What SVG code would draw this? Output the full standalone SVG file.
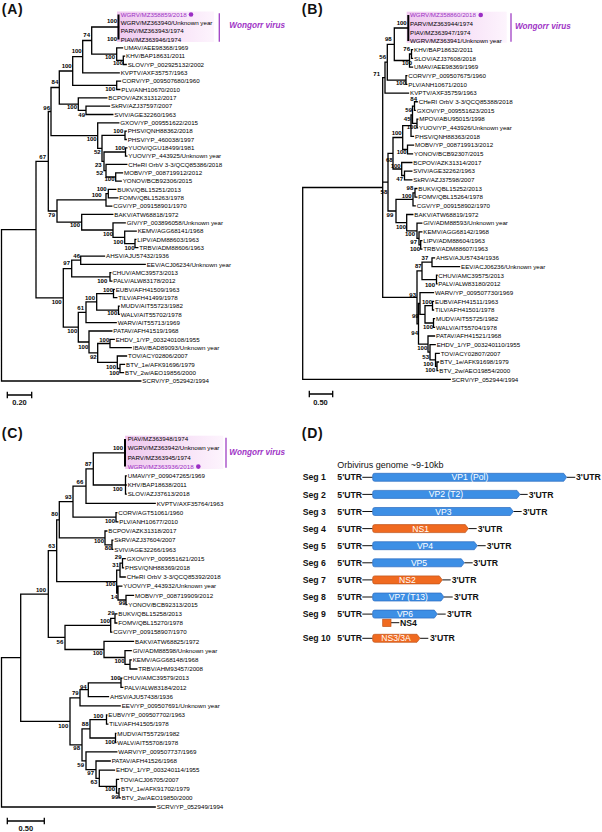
<svg xmlns="http://www.w3.org/2000/svg" width="602" height="832" viewBox="0 0 602 832">
<defs>
<linearGradient id="hl" x1="0" y1="0" x2="1" y2="0">
<stop offset="0" stop-color="#efc8ef"/>
<stop offset="1" stop-color="#fdf4fd"/>
</linearGradient>
<style>
.br{fill:none;stroke:#000;stroke-width:1.3;stroke-linecap:square}
.bar{fill:none;stroke:#000;stroke-width:2}
.t{font-family:"Liberation Sans",Arial,sans-serif;font-size:6.2px;fill:#000}
.p{fill:#9b2fc4}
.b{font-family:"Liberation Sans",Arial,sans-serif;font-size:6px;font-weight:bold;text-anchor:end;fill:#000}
.pl{font-family:"Liberation Sans",Arial,sans-serif;font-size:14px;font-weight:bold;letter-spacing:0.8px;fill:#111}
.wv{font-family:"Liberation Sans",Arial,sans-serif;font-size:8.2px;font-weight:bold;font-style:italic;fill:#a035c6}
.vl{stroke:#a040c4;stroke-width:1.3}
.sc{font-family:"Liberation Sans",Arial,sans-serif;font-size:7.5px;font-weight:bold;text-anchor:middle;fill:#111}
.d{font-family:"Liberation Sans",Arial,sans-serif;font-size:8.7px;font-weight:bold;fill:#111}
.gt{font-family:"Liberation Sans",Arial,sans-serif;font-size:8.6px;text-anchor:middle;fill:#fff}
.bl{fill:#3d8fe5;stroke:#2c6cc0;stroke-width:0.7}
.or{fill:#f06a20;stroke:#bf5319;stroke-width:0.7}
.ln{stroke:#111;stroke-width:1}
</style>
</defs>
<rect width="602" height="832" fill="#fff"/>

<!-- Panel A -->
<g id="panelA">
<text class="pl" x="1.7" y="13.5">(A)</text>
<rect x="117" y="11.5" width="97" height="30.5" fill="url(#hl)"/>
<line class="vl" x1="219.3" y1="13.3" x2="219.3" y2="41.7"/>
<text class="wv" x="229.3" y="28">Wongorr virus</text>
<circle cx="191" cy="14.5" r="2.3" fill="#9b2fc4"/>
<g id="a-branches">
<path class="bar" d="M118.5 14.5V39.5"/>
<path class="br" d="M123.3 56.2V64.5M116.7 47.8V60.3M91.7 27V54.1M82.7 40.5V72.8M116.7 81.1V89.5M72.7 56.7V85.3M86 106.1V114.5M78.3 97.8V110.3M59.3 71V104.1M125 131.1V139.5M125.5 147.8V156.1M115.7 172.8V181.1M106 164.4V177M104 152V170.7M102 135.3V161.3M97.7 122.8V148.3M51 87.5V135.6M108.3 189.4V197.8M106 193.6V206.1M135 239.4V247.7M124.7 231.1V243.6M113 222.8V237.3M81.7 214.4V230M57 199.8V222.2M48.3 111.5V211M80.7 256.1V264.4M110 272.7V281.1M71.7 260.2V276.9M113.5 289.4V297.7M118.5 306.1V314.4M96.7 293.6V310.2M86 301.9V322.7M110 339.4V347.7M120 364.4V372.7M117.3 356V368.5M97.7 343.5V362.3M89 331V352.9M78.3 312.3V342M63.3 268.6V327.1M36 161.3V297.9M1.5 229.6V381
M91.7 27H118.5M116.7 47.8H122.5M123.3 56.2H124.5M123.3 64.5H126.2M116.7 60.3H123.3M91.7 54.1H116.7M82.7 40.5H91.7M82.7 72.8H119.2M72.7 56.7H82.7M116.7 81.1H120.5M116.7 89.5H119.8M72.7 85.3H116.7M59.3 71H72.7M78.3 97.8H106.8M86 106.1H109.5M86 114.5H112.8M78.3 110.3H86M59.3 104.1H78.3M51 87.5H59.3M97.7 122.8H118.8M125 131.1H126.2M125 139.5H126.2M102 135.3H125M125.5 147.8H126.8M125.5 156.1H126.8M104 152H125.5M106 164.4H126.8M115.7 172.8H122.5M115.7 181.1H121.2M106 177H115.7M104 170.7H106M102 161.3H104M97.7 148.3H102M51 135.6H97.7M48.3 111.5H51M108.3 189.4H115.8M108.3 197.8H117.8M106 193.6H108.3M106 206.1H111.8M57 199.8H106M81.7 214.4H112.8M113 222.8H125.2M124.7 231.1H136.2M135 239.4H135.8M135 247.7H137.8M124.7 243.6H135M113 237.3H124.7M81.7 230H113M57 222.2H81.7M48.3 211H57M36 161.3H48.3M80.7 256.1H104.5M80.7 264.4H145.2M71.7 260.2H80.7M110 272.7H110.8M110 281.1H111.8M71.7 276.9H110M63.3 268.6H71.7M113.5 289.4H114.2M113.5 297.7H116.8M96.7 293.6H113.5M118.5 306.1H119.2M118.5 314.4H119.2M96.7 310.2H118.5M86 301.9H96.7M86 322.7H116.2M78.3 312.3H86M89 331H111.8M110 339.4H114.2M110 347.7H131.2M97.7 343.5H110M117.3 356H126.5M120 364.4H124.5M120 372.7H123.5M117.3 368.5H120M97.7 362.3H117.3M89 352.9H97.7M78.3 342H89M63.3 327.1H78.3M36 297.9H63.3M1.5 229.6H36M1.5 381H140.8"/>
<path class="br" d="M7.3 395H31.7M7.3 392.5V397.5M31.7 392.5V397.5"/>
</g>
<g id="a-leaves">
<text class="t p" x="120.7" y="16.7">WGRV/MZ358859/2018</text>
<text class="t" x="120.7" y="25">WGRV/MZ363940/Unknown year</text>
<text class="t" x="120.7" y="33.4">PARV/MZ363943/1974</text>
<text class="t" x="120.7" y="41.7">PIAV/MZ363946/1974</text>
<text class="t" x="124" y="50">UMAV/AEE98368/1969</text>
<text class="t" x="126" y="58.4">KHV/BAP18631/2011</text>
<text class="t" x="127.7" y="66.7">SLOV/YP_002925132/2002</text>
<text class="t" x="120.7" y="75">KVPTV/AXF35757/1963</text>
<text class="t" x="122" y="83.3">CORV/YP_009507680/1960</text>
<text class="t" x="121.3" y="91.7">PLV/ANH10670/2010</text>
<text class="t" x="108.3" y="100">BCPOV/AZK31312/2017</text>
<text class="t" x="111" y="108.3">SkRV/AZJ37597/2007</text>
<text class="t" x="114.3" y="116.7">SVIV/AGE32260/1963</text>
<text class="t" x="120.3" y="125">GXOV/YP_009551622/2015</text>
<text class="t" x="127.7" y="133.3">PHSV/QNH88362/2018</text>
<text class="t" x="127.7" y="141.7">PHSV/YP_460038/1997</text>
<text class="t" x="128.3" y="150">YUOV/QGU18499/1981</text>
<text class="t" x="128.3" y="158.3">YUOV/YP_443925/Unknown year</text>
<text class="t" x="128.3" y="166.6">CHeRI OrbV 3-3/QCQ85386/2018</text>
<text class="t" x="124" y="175">MOBV/YP_008719912/2012</text>
<text class="t" x="122.7" y="183.3">YONOV/BCB92306/2015</text>
<text class="t" x="117.3" y="191.6">BUKV/QBL15251/2013</text>
<text class="t" x="119.3" y="200">FOMV/QBL15263/1978</text>
<text class="t" x="113.3" y="208.3">CGV/YP_009158901/1970</text>
<text class="t" x="114.3" y="216.6">BAKV/ATW68818/1972</text>
<text class="t" x="126.7" y="225">GIV/YP_003896058/Unknown year</text>
<text class="t" x="137.7" y="233.3">KEMV/AGG68141/1968</text>
<text class="t" x="137.3" y="241.6">LIPV/ADM88603/1963</text>
<text class="t" x="139.3" y="249.9">TRBV/ADM88606/1963</text>
<text class="t" x="106" y="258.3">AHSV/AJU57432/1936</text>
<text class="t" x="146.7" y="266.6">EEV/ACJ06234/Unknown year</text>
<text class="t" x="112.3" y="274.9">CHUV/AMC39573/2013</text>
<text class="t" x="113.3" y="283.3">PALV/ALW83178/2012</text>
<text class="t" x="115.7" y="291.6">EUBV/AFH41509/1963</text>
<text class="t" x="118.3" y="299.9">TILV/AFH41499/1978</text>
<text class="t" x="120.7" y="308.3">MUDV/AIT55723/1982</text>
<text class="t" x="120.7" y="316.6">WALV/AIT55702/1978</text>
<text class="t" x="117.7" y="324.9">WARV/AIT55713/1969</text>
<text class="t" x="113.3" y="333.2">PATAV/AFH41519/1968</text>
<text class="t" x="115.7" y="341.6">EHDV_1/YP_003240108/1955</text>
<text class="t" x="132.7" y="349.9">IBAV/BAD89093/Unknown year</text>
<text class="t" x="128" y="358.2">TOV/ACY02806/2007</text>
<text class="t" x="126" y="366.6">BTV_1e/AFK91696/1979</text>
<text class="t" x="125" y="374.9">BTV_2w/AEO19856/2000</text>
<text class="t" x="142.3" y="383.2">SCRV/YP_052942/1994</text>
</g>
<g id="a-support">
<text class="b" x="117" y="22.8">100</text>
<text class="b" x="117" y="41.1">100</text>
<text class="b" x="90" y="36.8">74</text>
<text class="b" x="115" y="59.4">100</text>
<text class="b" x="123" y="65.4">100</text>
<text class="b" x="81.7" y="53.1">100</text>
<text class="b" x="71.7" y="67.8">100</text>
<text class="b" x="115.3" y="91.1">100</text>
<text class="b" x="58.3" y="83.8">84</text>
<text class="b" x="77" y="109.4">100</text>
<text class="b" x="85" y="117.1">49</text>
<text class="b" x="50" y="109.8">96</text>
<text class="b" x="96.7" y="141.1">100</text>
<text class="b" x="123.3" y="132.8">100</text>
<text class="b" x="100.7" y="153.8">52</text>
<text class="b" x="125" y="150.4">100</text>
<text class="b" x="101.7" y="167.1">23</text>
<text class="b" x="103" y="175.2">52</text>
<text class="b" x="114.5" y="180.5">100</text>
<text class="b" x="46" y="158.8">67</text>
<text class="b" x="106.7" y="191.1">100</text>
<text class="b" x="101.7" y="197.1">100</text>
<text class="b" x="55" y="217.1">79</text>
<text class="b" x="80" y="227.1">100</text>
<text class="b" x="113" y="236.1">100</text>
<text class="b" x="123.3" y="243.8">100</text>
<text class="b" x="134.5" y="249.8">100</text>
<text class="b" x="80" y="257.8">46</text>
<text class="b" x="70" y="265.4">97</text>
<text class="b" x="107.3" y="283.1">100</text>
<text class="b" x="61.7" y="304.4">100</text>
<text class="b" x="113" y="292.1">100</text>
<text class="b" x="117.3" y="315.4">100</text>
<text class="b" x="95" y="300.4">100</text>
<text class="b" x="84" y="310.4">61</text>
<text class="b" x="77.3" y="333.1">100</text>
<text class="b" x="109.3" y="342.1">100</text>
<text class="b" x="88.3" y="348.8">100</text>
<text class="b" x="96.7" y="359.4">92</text>
<text class="b" x="116" y="368.8">100</text>
<text class="b" x="119.3" y="375.4">100</text>
</g>
<text class="sc" x="19.5" y="405">0.20</text>
</g>

<!-- Panel B -->
<g id="panelB">
<text class="pl" x="301.7" y="13.5">(B)</text>
<rect x="406.7" y="11.7" width="100" height="31" fill="url(#hl)"/>
<line class="vl" x1="511" y1="13.3" x2="511" y2="41.7"/>
<text class="wv" x="515" y="29">Wongorr virus</text>
<circle cx="480.7" cy="15" r="2.3" fill="#9b2fc4"/>
<g id="b-branches">
<path class="bar" d="M408.3 15V41"/>
<path class="br" d="M411.5 49.7V58.4M409.5 54V67.05M394.3 28V60.5M406 75.7V84.4M387.3 44.3V80.1M385 62.2V93.1M414.5 101.75V110.4M417 119.1V127.8M412.5 106.1V123.4M411 114.8V136.45M407.5 145.1V153.8M402.7 125.6V149.5M404.5 171.15V179.8M401.7 162.5V175.5M393 137.5V169M415 188.5V197.2M413 192.8V205.85M420.7 240.55V249.2M419 231.9V244.9M417 223.2V238.4M406.7 214.5V230.8M396 199.3V222.7M388 153.3V211M432 257.9V266.6M436.5 275.25V283.9M422 262.2V279.6M432.5 301.3V310M433.5 318.6V327.3M425 305.6V323M420 292.6V314.3M437 362V370.7M435.5 353.3V366.3M430 344.65V359.8M428 336V352.2M418.5 303.5V344.1M417 270.9V323.8M382.7 77.6V297.3M302.7 187.5V379.35
M394.3 28H408.3M411.5 49.7H412.5M411.5 58.4H412.5M409.5 54H411.5M409.5 67.05H412.5M394.3 60.5H409.5M387.3 44.3H394.3M406 75.7H406.8M406 84.4H406.8M387.3 80.1H406M385 62.2H387.3M385 93.1H408.5M382.7 77.6H385M414.5 101.75H417.2M414.5 110.4H415.2M412.5 106.1H414.5M417 119.1H417.8M417 127.8H417.5M412.5 123.4H417M411 114.8H412.5M411 136.45H413.5M402.7 125.6H411M407.5 145.1H413.5M407.5 153.8H412.5M402.7 149.5H407.5M393 137.5H402.7M401.7 162.5H411.8M404.5 171.15H411.8M404.5 179.8H411.8M401.7 175.5H404.5M393 169H401.7M388 153.3H393M415 188.5H416.8M415 197.2H416.8M413 192.8H415M413 205.85H415.2M396 199.3H413M406.7 214.5H412.8M417 223.2H421.8M419 231.9H421.8M420.7 240.55H421.8M420.7 249.2H421.8M419 244.9H420.7M417 238.4H419M406.7 230.8H417M396 222.7H406.7M388 211H396M382.7 182.2H388M432 257.9H434.5M432 266.6H459.5M422 262.2H432M436.5 275.25H437M436.5 283.9H437M422 279.6H436.5M417 270.9H422M420 292.6H433.5M432.5 301.3H433.5M432.5 310H433.5M425 305.6H432.5M433.5 318.6H434.5M433.5 327.3H434.5M425 323H433.5M420 314.3H425M418.5 303.5H420M428 336H434.5M430 344.65H435.2M435.5 353.3H439.2M437 362H438.5M437 370.7H437.8M435.5 366.3H437M430 359.8H435.5M428 352.2H430M418.5 344.1H428M417 323.8H418.5M382.7 297.3H417M302.7 187.5H382.7M302.7 379.35H450.2"/>
<path class="br" d="M309.3 394H332.7M309.3 391.5V396.5M332.7 391.5V396.5"/>
</g>
<g id="b-leaves">
<text class="t p" x="410" y="17.2">WGRV/MZ358860/2018</text>
<text class="t" x="410" y="25.9">PARV/MZ363944/1974</text>
<text class="t" x="410" y="34.6">PIAV/MZ363947/1974</text>
<text class="t" x="410" y="43.2">WGRV/MZ363941/Unknown year</text>
<text class="t" x="414" y="51.9">KHV/BAP18632/2011</text>
<text class="t" x="414" y="60.6">SLOV/AZJ37608/2018</text>
<text class="t" x="414" y="69.3">UMAV/AEE98369/1969</text>
<text class="t" x="408.3" y="77.9">CORV/YP_009507675/1960</text>
<text class="t" x="408.3" y="86.6">PLV/ANH10671/2010</text>
<text class="t" x="410" y="95.3">KVPTV/AXF35759/1963</text>
<text class="t" x="418.7" y="104">CHeRI OrbV 3-3/QCQ85388/2018</text>
<text class="t" x="416.7" y="112.6">GXOV/YP_009551623/2015</text>
<text class="t" x="419.3" y="121.3">MPOV/ABU95015/1998</text>
<text class="t" x="419" y="130">YUOV/YP_443926/Unknown year</text>
<text class="t" x="415" y="138.7">PHSV/QNH88363/2018</text>
<text class="t" x="415" y="147.3">MOBV/YP_008719913/2012</text>
<text class="t" x="414" y="156">YONOV/BCB92307/2015</text>
<text class="t" x="413.3" y="164.7">BCPOV/AZK31314/2017</text>
<text class="t" x="413.3" y="173.4">SVIV/AGE32262/1963</text>
<text class="t" x="413.3" y="182">SkRV/AZJ37598/2007</text>
<text class="t" x="418.3" y="190.7">BUKV/QBL15252/2013</text>
<text class="t" x="418.3" y="199.4">FOMV/QBL15264/1978</text>
<text class="t" x="416.7" y="208.1">CGV/YP_009158902/1970</text>
<text class="t" x="414.3" y="216.7">BAKV/ATW68819/1972</text>
<text class="t" x="423.3" y="225.4">GIV/ADM88593/Unknown year</text>
<text class="t" x="423.3" y="234.1">KEMV/AGG68142/1968</text>
<text class="t" x="423.3" y="242.8">LIPV/ADM88604/1963</text>
<text class="t" x="423.3" y="251.4">TRBV/ADM88607/1963</text>
<text class="t" x="436" y="260.1">AHSV/AJU57434/1936</text>
<text class="t" x="461" y="268.8">EEV/ACJ06236/Unknown year</text>
<text class="t" x="438.3" y="277.5">CHUV/AMC39575/2013</text>
<text class="t" x="438.3" y="286.1">PALV/ALW83180/2012</text>
<text class="t" x="435" y="294.8">WARV/YP_009507730/1969</text>
<text class="t" x="435" y="303.5">EUBV/AFH41511/1963</text>
<text class="t" x="435" y="312.2">TILV/AFH41501/1978</text>
<text class="t" x="436" y="320.8">MUDV/AIT55725/1982</text>
<text class="t" x="436" y="329.5">WALV/AIT55704/1978</text>
<text class="t" x="436" y="338.2">PATAV/AFH41521/1968</text>
<text class="t" x="436.7" y="346.9">EHDV_1/YP_003240110/1955</text>
<text class="t" x="440.7" y="355.5">TOV/ACY02807/2007</text>
<text class="t" x="440" y="364.2">BTV_1e/AFK91698/1979</text>
<text class="t" x="439.3" y="372.9">BTV_2w/AEO19854/2000</text>
<text class="t" x="451.7" y="381.6">SCRV/YP_052944/1994</text>
</g>
<g id="b-support">
<text class="b" x="406.7" y="25.4">100</text>
<text class="b" x="391.7" y="41.4">98</text>
<text class="b" x="410" y="51.4">76</text>
<text class="b" x="412" y="65.4">100</text>
<text class="b" x="386" y="59.4">56</text>
<text class="b" x="380" y="76.1">71</text>
<text class="b" x="406" y="85.4">100</text>
<text class="b" x="417" y="101.4">84</text>
<text class="b" x="412" y="112.1">59</text>
<text class="b" x="410.5" y="120.8">45</text>
<text class="b" x="416.8" y="128.8">100</text>
<text class="b" x="401.7" y="134.8">100</text>
<text class="b" x="406.7" y="154.4">100</text>
<text class="b" x="392.7" y="162.1">68</text>
<text class="b" x="400.7" y="167.8">100</text>
<text class="b" x="403" y="181.4">47</text>
<text class="b" x="387.3" y="194.4">58</text>
<text class="b" x="413.3" y="190.4">98</text>
<text class="b" x="411.7" y="198.1">100</text>
<text class="b" x="393.3" y="217.1">99</text>
<text class="b" x="406" y="228.8">100</text>
<text class="b" x="415" y="236.4">100</text>
<text class="b" x="417" y="244.4">97</text>
<text class="b" x="420" y="250.9">100</text>
<text class="b" x="428.3" y="259.8">37</text>
<text class="b" x="421.7" y="268.1">87</text>
<text class="b" x="435" y="287.1">100</text>
<text class="b" x="416" y="297.1">93</text>
<text class="b" x="432" y="303.8">100</text>
<text class="b" x="418.7" y="317.8">99</text>
<text class="b" x="433" y="328.8">100</text>
<text class="b" x="418" y="335.4">94</text>
<text class="b" x="427.3" y="350.4">100</text>
<text class="b" x="429" y="358.8">53</text>
<text class="b" x="433.3" y="366.4">100</text>
<text class="b" x="435.3" y="372.1">100</text>
</g>
<text class="sc" x="320.5" y="404.5">0.50</text>
</g>

<!-- Panel C -->
<g id="panelC">
<text class="pl" x="1.7" y="437.5">(C)</text>
<rect x="125" y="435.7" width="98.3" height="33.3" fill="url(#hl)"/>
<line class="vl" x1="226" y1="437.7" x2="226" y2="467.7"/>
<text class="wv" x="229.3" y="454.7">Wongorr virus</text>
<circle cx="198.3" cy="466.6" r="2.3" fill="#9b2fc4"/>
<g id="c-branches">
<path class="bar" d="M125 439V466.6"/>
<path class="br" d="M125.5 475.8V494.2M93.3 452.8V485M86 468.9V503.4M116 512.6V521.8M73 486.2V517.2M112 540.2V549.4M105 531V544.8M59.3 501.7V537.9M122.5 558.6V567.8M120 563.2V577M126 595.4V604.6M118 586.2V600M116.7 570.1V593.1M56.7 519.8V581.6M115 613.8V623M110.7 618.4V632.2M130 659.8V669M125 650.6V664.4M104 641.4V657.5M65 625.3V649.5M48.3 550.7V637.4M121 678.2V687.4M88.3 682.8V696.6M80 689.7V705.8M106.5 715V724.2M115.5 733.4V742.6M90 719.6V738M119 788.6V797.8M116.5 779.4V793.2M99.3 770.2V786.3M96 761V778.3M86 751.8V769.7M82 728.8V760.8M70 697.8V744.8M20.7 594.1V721.3M1.5 657.7V807
M93.3 452.8H125M125.5 475.8H126.2M125.5 485H126.2M125.5 494.2H126.2M93.3 485H125.5M86 468.9H93.3M86 503.4H155.2M73 486.2H86M116 512.6H116.8M116 521.8H117.8M73 517.2H116M59.3 501.7H73M105 531H106.8M112 540.2H112.8M112 549.4H112.8M105 544.8H112M59.3 537.9H105M56.7 519.8H59.3M122.5 558.6H125.2M122.5 567.8H123.5M120 563.2H122.5M120 577H125.2M116.7 570.1H120M118 586.2H121.8M126 595.4H133.5M126 604.6H126.8M118 600H126M116.7 593.1H118M56.7 581.6H116.7M48.3 550.7H56.7M115 613.8H116.8M115 623H116.8M110.7 618.4H115M110.7 632.2H111.8M65 625.3H110.7M104 641.4H133.5M125 650.6H131.2M130 659.8H131.2M130 669H136.8M125 664.4H130M104 657.5H125M65 649.5H104M48.3 637.4H65M20.7 594.1H48.3M121 678.2H121.8M121 687.4H122.8M88.3 682.8H121M88.3 696.6H108.5M80 689.7H88.3M80 705.8H120.2M70 697.8H80M106.5 715H106.8M106.5 724.2H107.8M90 719.6H106.5M115.5 733.4H115.8M115.5 742.6H115.8M90 738H115.5M82 728.8H90M86 751.8H116.8M96 761H110.2M99.3 770.2H114.5M116.5 779.4H118.5M119 788.6H119.5M119 797.8H120.2M116.5 793.2H119M99.3 786.3H116.5M96 778.3H99.3M86 769.7H96M82 760.8H86M70 744.8H82M20.7 721.3H70M1.5 657.7H20.7M1.5 807H155.2"/>
<path class="br" d="M7.3 821H44.3M7.3 818.5V823.5M44.3 818.5V823.5"/>
</g>
<g id="c-leaves">
<text class="t" x="127.7" y="441.2">PIAV/MZ363948/1974</text>
<text class="t" x="127.7" y="450.4">WGRV/MZ363942/Unknown year</text>
<text class="t" x="127.7" y="459.6">PARV/MZ363945/1974</text>
<text class="t p" x="127.7" y="468.8">WGRV/MZ363936/2018</text>
<text class="t" x="127.7" y="478">UMAV/YP_009047265/1969</text>
<text class="t" x="127.7" y="487.2">KHV/BAP18638/2011</text>
<text class="t" x="127.7" y="496.4">SLOV/AZJ37613/2018</text>
<text class="t" x="156.7" y="505.6">KVPTV/AXF35764/1963</text>
<text class="t" x="118.3" y="514.8">CORV/AGT51061/1960</text>
<text class="t" x="119.3" y="524">PLV/ANH10677/2010</text>
<text class="t" x="108.3" y="533.2">BCPOV/AZK31318/2017</text>
<text class="t" x="114.3" y="542.4">SkRV/AZJ37604/2007</text>
<text class="t" x="114.3" y="551.6">SVIV/AGE32266/1963</text>
<text class="t" x="126.7" y="560.8">GXOV/YP_009551621/2015</text>
<text class="t" x="125" y="570">PHSV/QNH88369/2018</text>
<text class="t" x="126.7" y="579.2">CHeRI OrbV 3-3/QCQ85392/2018</text>
<text class="t" x="123.3" y="588.4">YUOV/YP_443932/Unknown year</text>
<text class="t" x="135" y="597.6">MOBV/YP_008719909/2012</text>
<text class="t" x="128.3" y="606.8">YONOV/BCB92313/2015</text>
<text class="t" x="118.3" y="616">BUKV/QBL15258/2013</text>
<text class="t" x="118.3" y="625.2">FOMV/QBL15270/1978</text>
<text class="t" x="113.3" y="634.4">CGV/YP_009158907/1970</text>
<text class="t" x="135" y="643.6">BAKV/ATW68825/1972</text>
<text class="t" x="132.7" y="652.8">GIV/ADM88598/Unknown year</text>
<text class="t" x="132.7" y="662">KEMV/AGG68148/1968</text>
<text class="t" x="138.3" y="671.2">TRBV/AHM93457/2008</text>
<text class="t" x="123.3" y="680.4">CHUV/AMC39579/2013</text>
<text class="t" x="124.3" y="689.6">PALV/ALW83184/2012</text>
<text class="t" x="110" y="698.8">AHSV/AJU57438/1936</text>
<text class="t" x="121.7" y="708">EEV/YP_009507691/Unknown year</text>
<text class="t" x="108.3" y="717.2">EUBV/YP_009507702/1963</text>
<text class="t" x="109.3" y="726.4">TILV/AFH41505/1978</text>
<text class="t" x="117.3" y="735.6">MUDV/AIT55729/1982</text>
<text class="t" x="117.3" y="744.8">WALV/AIT55708/1978</text>
<text class="t" x="118.3" y="754">WARV/YP_009507737/1969</text>
<text class="t" x="111.7" y="763.2">PATAV/AFH41526/1968</text>
<text class="t" x="116" y="772.4">EHDV_1/YP_003240114/1955</text>
<text class="t" x="120" y="781.6">TOV/ACJ06705/2007</text>
<text class="t" x="121" y="790.8">BTV_1e/AFK91702/1979</text>
<text class="t" x="121.7" y="800">BTV_2w/AEO19850/2000</text>
<text class="t" x="156.7" y="809.2">SCRV/YP_052949/1994</text>
</g>
<g id="c-support">
<text class="b" x="123" y="450.4">100</text>
<text class="b" x="91.7" y="466.4">87</text>
<text class="b" x="122.7" y="491.1">100</text>
<text class="b" x="83.3" y="483.8">66</text>
<text class="b" x="71.7" y="498.8">93</text>
<text class="b" x="115" y="523.1">100</text>
<text class="b" x="58" y="516.4">80</text>
<text class="b" x="104" y="543.1">100</text>
<text class="b" x="111.5" y="550.4">80</text>
<text class="b" x="55" y="547.8">63</text>
<text class="b" x="121.5" y="559.4">29</text>
<text class="b" x="119" y="567.1">31</text>
<text class="b" x="115.5" y="586.4">100</text>
<text class="b" x="117.5" y="598.8">14</text>
<text class="b" x="125.5" y="605.4">99</text>
<text class="b" x="46" y="592.1">100</text>
<text class="b" x="114.5" y="615.4">29</text>
<text class="b" x="110" y="622.8">100</text>
<text class="b" x="63.3" y="643.8">56</text>
<text class="b" x="102.7" y="655.4">100</text>
<text class="b" x="124.5" y="662.8">100</text>
<text class="b" x="120.5" y="679.8">100</text>
<text class="b" x="86.7" y="688.8">94</text>
<text class="b" x="78.7" y="695.4">79</text>
<text class="b" x="103.3" y="717.8">100</text>
<text class="b" x="88.5" y="726.4">88</text>
<text class="b" x="115" y="743.8">100</text>
<text class="b" x="68.3" y="727.8">100</text>
<text class="b" x="80" y="749.8">98</text>
<text class="b" x="84" y="767.1">59</text>
<text class="b" x="94" y="775.4">97</text>
<text class="b" x="97.3" y="783.8">63</text>
<text class="b" x="115" y="791.1">100</text>
<text class="b" x="118.3" y="799.4">99</text>
</g>
<text class="sc" x="25.8" y="831.3">0.50</text>
</g>

<!-- Panel D -->
<g id="panelD">
<text class="pl" x="301.7" y="437.5">(D)</text>
<text x="337.3" y="468.2" style="font-family:'Liberation Sans',Arial,sans-serif;font-size:9px;fill:#111">Orbivirus genome ~9-10kb</text>
<g id="d-lines">
<path class="ln" d="M362.3 477.3H372.7M566.7 477.3H575.3M362.3 494.4H372.7M520 494.4H527.7M362.3 511.5H372.7M513.3 511.5H521.7M362.3 528.6H372.7M468.3 528.6H476.7M362.3 545.7H372.7M477.3 545.7H485.7M362.3 562.8H372.7M464.3 562.8H472.7M362.3 579.9H372.7M442.3 579.9H450.7M362.3 597H372.7M444 597H452.7M362.3 614.1H372.7M437.3 614.1H445.7M391 622.7H399.3M362.3 638.3H372.7M420 638.3H428.3"/>
</g>
<g id="seg1"><text class="d" x="302.7" y="480.4">Seg 1</text><text class="d" x="337.3" y="480.4">5'UTR</text>
<path class="bl" d="M374.7 473.3H563.7L566.7 477.3L563.7 481.3H374.7Q372.7 481.3 372.7 479.3V475.3Q372.7 473.3 374.7 473.3Z"/>
<text class="gt" x="470" y="480.3">VP1 (Pol)</text><text class="d" x="576" y="480.4">3'UTR</text></g>
<g id="seg2"><text class="d" x="302.7" y="497.5">Seg 2</text><text class="d" x="337.3" y="497.5">5'UTR</text>
<path class="bl" d="M374.7 490.4H517L520 494.4L517 498.4H374.7Q372.7 498.4 372.7 496.4V492.4Q372.7 490.4 374.7 490.4Z"/>
<text class="gt" x="446" y="497.4">VP2 (T2)</text><text class="d" x="528.7" y="497.5">3'UTR</text></g>
<g id="seg3"><text class="d" x="302.7" y="514.6">Seg 3</text><text class="d" x="337.3" y="514.6">5'UTR</text>
<path class="bl" d="M374.7 507.5H510.3L513.3 511.5L510.3 515.5H374.7Q372.7 515.5 372.7 513.5V509.5Q372.7 507.5 374.7 507.5Z"/>
<text class="gt" x="443.3" y="514.5">VP3</text><text class="d" x="522.7" y="514.6">3'UTR</text></g>
<g id="seg4"><text class="d" x="302.7" y="531.7">Seg 4</text><text class="d" x="337.3" y="531.7">5'UTR</text>
<path class="or" d="M374.7 524.6H465.3L468.3 528.6L465.3 532.6H374.7Q372.7 532.6 372.7 530.6V526.6Q372.7 524.6 374.7 524.6Z"/>
<text class="gt" x="420.7" y="531.6">NS1</text><text class="d" x="477.7" y="531.7">3'UTR</text></g>
<g id="seg5"><text class="d" x="302.7" y="548.8">Seg 5</text><text class="d" x="337.3" y="548.8">5'UTR</text>
<path class="bl" d="M374.7 541.7H474.3L477.3 545.7L474.3 549.7H374.7Q372.7 549.7 372.7 547.7V543.7Q372.7 541.7 374.7 541.7Z"/>
<text class="gt" x="425" y="548.7">VP4</text><text class="d" x="486.7" y="548.8">3'UTR</text></g>
<g id="seg6"><text class="d" x="302.7" y="565.9">Seg 6</text><text class="d" x="337.3" y="565.9">5'UTR</text>
<path class="bl" d="M374.7 558.8H461.3L464.3 562.8L461.3 566.8H374.7Q372.7 566.8 372.7 564.8V560.8Q372.7 558.8 374.7 558.8Z"/>
<text class="gt" x="419" y="565.8">VP5</text><text class="d" x="473.3" y="565.9">3'UTR</text></g>
<g id="seg7"><text class="d" x="302.7" y="583">Seg 7</text><text class="d" x="337.3" y="583">5'UTR</text>
<path class="or" d="M374.7 575.9H439.3L442.3 579.9L439.3 583.9H374.7Q372.7 583.9 372.7 581.9V577.9Q372.7 575.9 374.7 575.9Z"/>
<text class="gt" x="407.3" y="582.9">NS2</text><text class="d" x="451.7" y="583">3'UTR</text></g>
<g id="seg8"><text class="d" x="302.7" y="600.1">Seg 8</text><text class="d" x="337.3" y="600.1">5'UTR</text>
<path class="bl" d="M374.7 593H441L444 597L441 601H374.7Q372.7 601 372.7 599V595Q372.7 593 374.7 593Z"/>
<text class="gt" x="408.3" y="600">VP7 (T13)</text><text class="d" x="454" y="600.1">3'UTR</text></g>
<g id="seg9"><text class="d" x="302.7" y="617.2">Seg 9</text><text class="d" x="337.3" y="617.2">5'UTR</text>
<path class="bl" d="M374.7 610.1H434.3L437.3 614.1L434.3 618.1H374.7Q372.7 618.1 372.7 616.1V612.1Q372.7 610.1 374.7 610.1Z"/>
<text class="gt" x="405" y="617.1">VP6</text><text class="d" x="447" y="617.2">3'UTR</text>
<rect class="or" x="382.7" y="619.2" width="8.3" height="7.3"/>
<text class="d" x="400" y="625.8">NS4</text></g>
<g id="seg10"><text class="d" x="302.7" y="641.4">Seg 10</text><text class="d" x="337.3" y="641.4">5'UTR</text>
<path class="or" d="M374.7 634.3H417L420 638.3L417 642.3H374.7Q372.7 642.3 372.7 640.3V636.3Q372.7 634.3 374.7 634.3Z"/>
<text class="gt" x="396" y="641.3">NS3/3A</text><text class="d" x="430" y="641.4">3'UTR</text></g>
</g>
</svg>
